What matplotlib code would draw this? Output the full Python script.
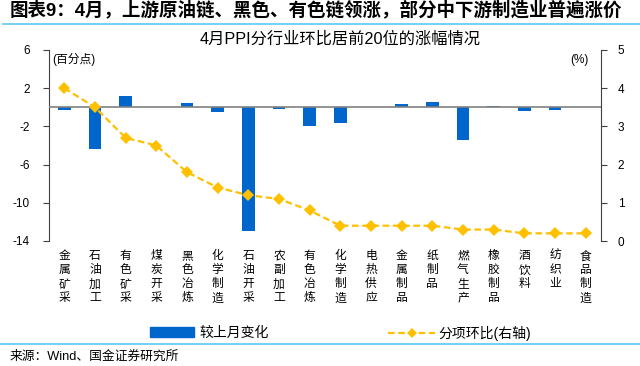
import matplotlib
matplotlib.use("Agg")
import matplotlib.pyplot as plt
from matplotlib.patches import Patch
from matplotlib.lines import Line2D
import numpy as np

plt.rcParams['font.family'] = ['Liberation Sans', 'Noto Sans CJK SC', 'DejaVu Sans']

categories = ["金属矿采", "石油加工", "有色矿采", "煤炭开采", "黑色冶炼", "化学制造",
              "石油开采", "农副加工", "有色冶炼", "化学制造", "电热供应", "金属制品",
              "纸制品", "燃气生产", "橡胶制品", "酒饮料", "纺织业", "食品制造"]
change_vs_last = [-0.25, -4.4, 1.2, 0.0, 0.45, -0.45, -13.0, -0.15, -1.95, -1.65,
                  0.0, 0.35, 0.55, -3.45, 0.15, -0.4, -0.25, 0.0]
mom = [4.0, 3.5, 2.7, 2.5, 1.8, 1.4, 1.2, 1.1, 0.8, 0.4, 0.4, 0.4, 0.4, 0.3, 0.3,
       0.2, 0.2, 0.2]
left_ticks = [6, 2, -2, -6, -10, -14]
right_ticks = [0, 1, 2, 3, 4, 5]

bar_color = "#0066CC"
line_color = "#FFC000"

fig = plt.figure(figsize=(6.4, 3.66), dpi=100)
ax = fig.add_axes([49/640, 1-241/366, (601-49)/640, (241-50)/366])
x = np.arange(len(categories))

ax.bar(x, change_vs_last, width=0.42, color=bar_color, zorder=2)
ax.axhline(0, color="#808080", lw=1.2, zorder=3)
ax.set_xlim(-0.5, len(categories) - 0.5)
ax.set_ylim(-14, 6)
ax.set_yticks(left_ticks)
ax.set_yticklabels([str(t) for t in left_ticks])
ax.tick_params(axis='y', direction='out', length=4, pad=10, labelsize=8.5, color="#404040")
ax.set_xticks(x)
ax.set_xticklabels(["\n".join(c) for c in categories], fontsize=8.5,
                   family=['Noto Sans CJK SC'], linespacing=1.1, va='top')
ax.tick_params(axis='x', length=0, pad=6)
for s in ['top', 'right', 'bottom']:
    ax.spines[s].set_visible(False)
ax.spines['left'].set_color("#404040")

ax2 = ax.twinx()
ax2.plot(x, mom, color=line_color, lw=1.6, linestyle=(0, (3, 1.6)),
         marker='D', markersize=6.2, markeredgewidth=0, zorder=4)
ax2.set_ylim(0, 5)
ax2.set_yticks(right_ticks)
ax2.tick_params(axis='y', direction='out', length=4, pad=8, labelsize=8.5, color="#404040")
for s in ['top', 'left', 'bottom']:
    ax2.spines[s].set_visible(False)
ax2.spines['right'].set_color("#404040")

fig.text(52/640, 1-59.5/366, "(百分点)", ha='left', va='center', fontsize=8.5)
fig.text(589/640, 1-60/366, "(%)", ha='right', va='center', fontsize=8.5)

fig.text(340/640, 1-39/366, "4月PPI分行业环比居前20位的涨幅情况", ha='center', va='center',
         fontsize=11.7)
fig.text(10/640, 1-10/366, "图表9：4月，上游原油链、黑色、有色链领涨，部分中下游制造业普遍涨价",
         ha='left', va='center', fontsize=13.3, fontweight='bold')
fig.add_artist(Line2D([3/640, 1], [1-24/366, 1-24/366], color="#5BC8F0", lw=1.2,
                      transform=fig.transFigure))
fig.add_artist(Line2D([0, 1], [1-344/366, 1-344/366], color="#5BC8F0", lw=1.2,
                      transform=fig.transFigure))
fig.text(10/640, 1-357/366, "来源：Wind、国金证券研究所", ha='left', va='center', fontsize=9.2)

h1 = Patch(color=bar_color, label="较上月变化")
h2 = Line2D([], [], color=line_color, lw=1.6, linestyle=(0, (3, 1.6)), marker='D',
            markersize=5, markeredgewidth=0, label="分项环比(右轴)")
fig.legend(handles=[h1], loc='center left', bbox_to_anchor=(150/640, 1-333/366),
           frameon=False, fontsize=10, borderpad=0, borderaxespad=0,
           handlelength=3.2, handletextpad=0.35)
fig.legend(handles=[h2], loc='center left', bbox_to_anchor=(388/640, 1-333/366),
           frameon=False, fontsize=10, borderpad=0, borderaxespad=0,
           handlelength=3.4, handletextpad=0.25)

fig.savefig("out.png", dpi=100)
